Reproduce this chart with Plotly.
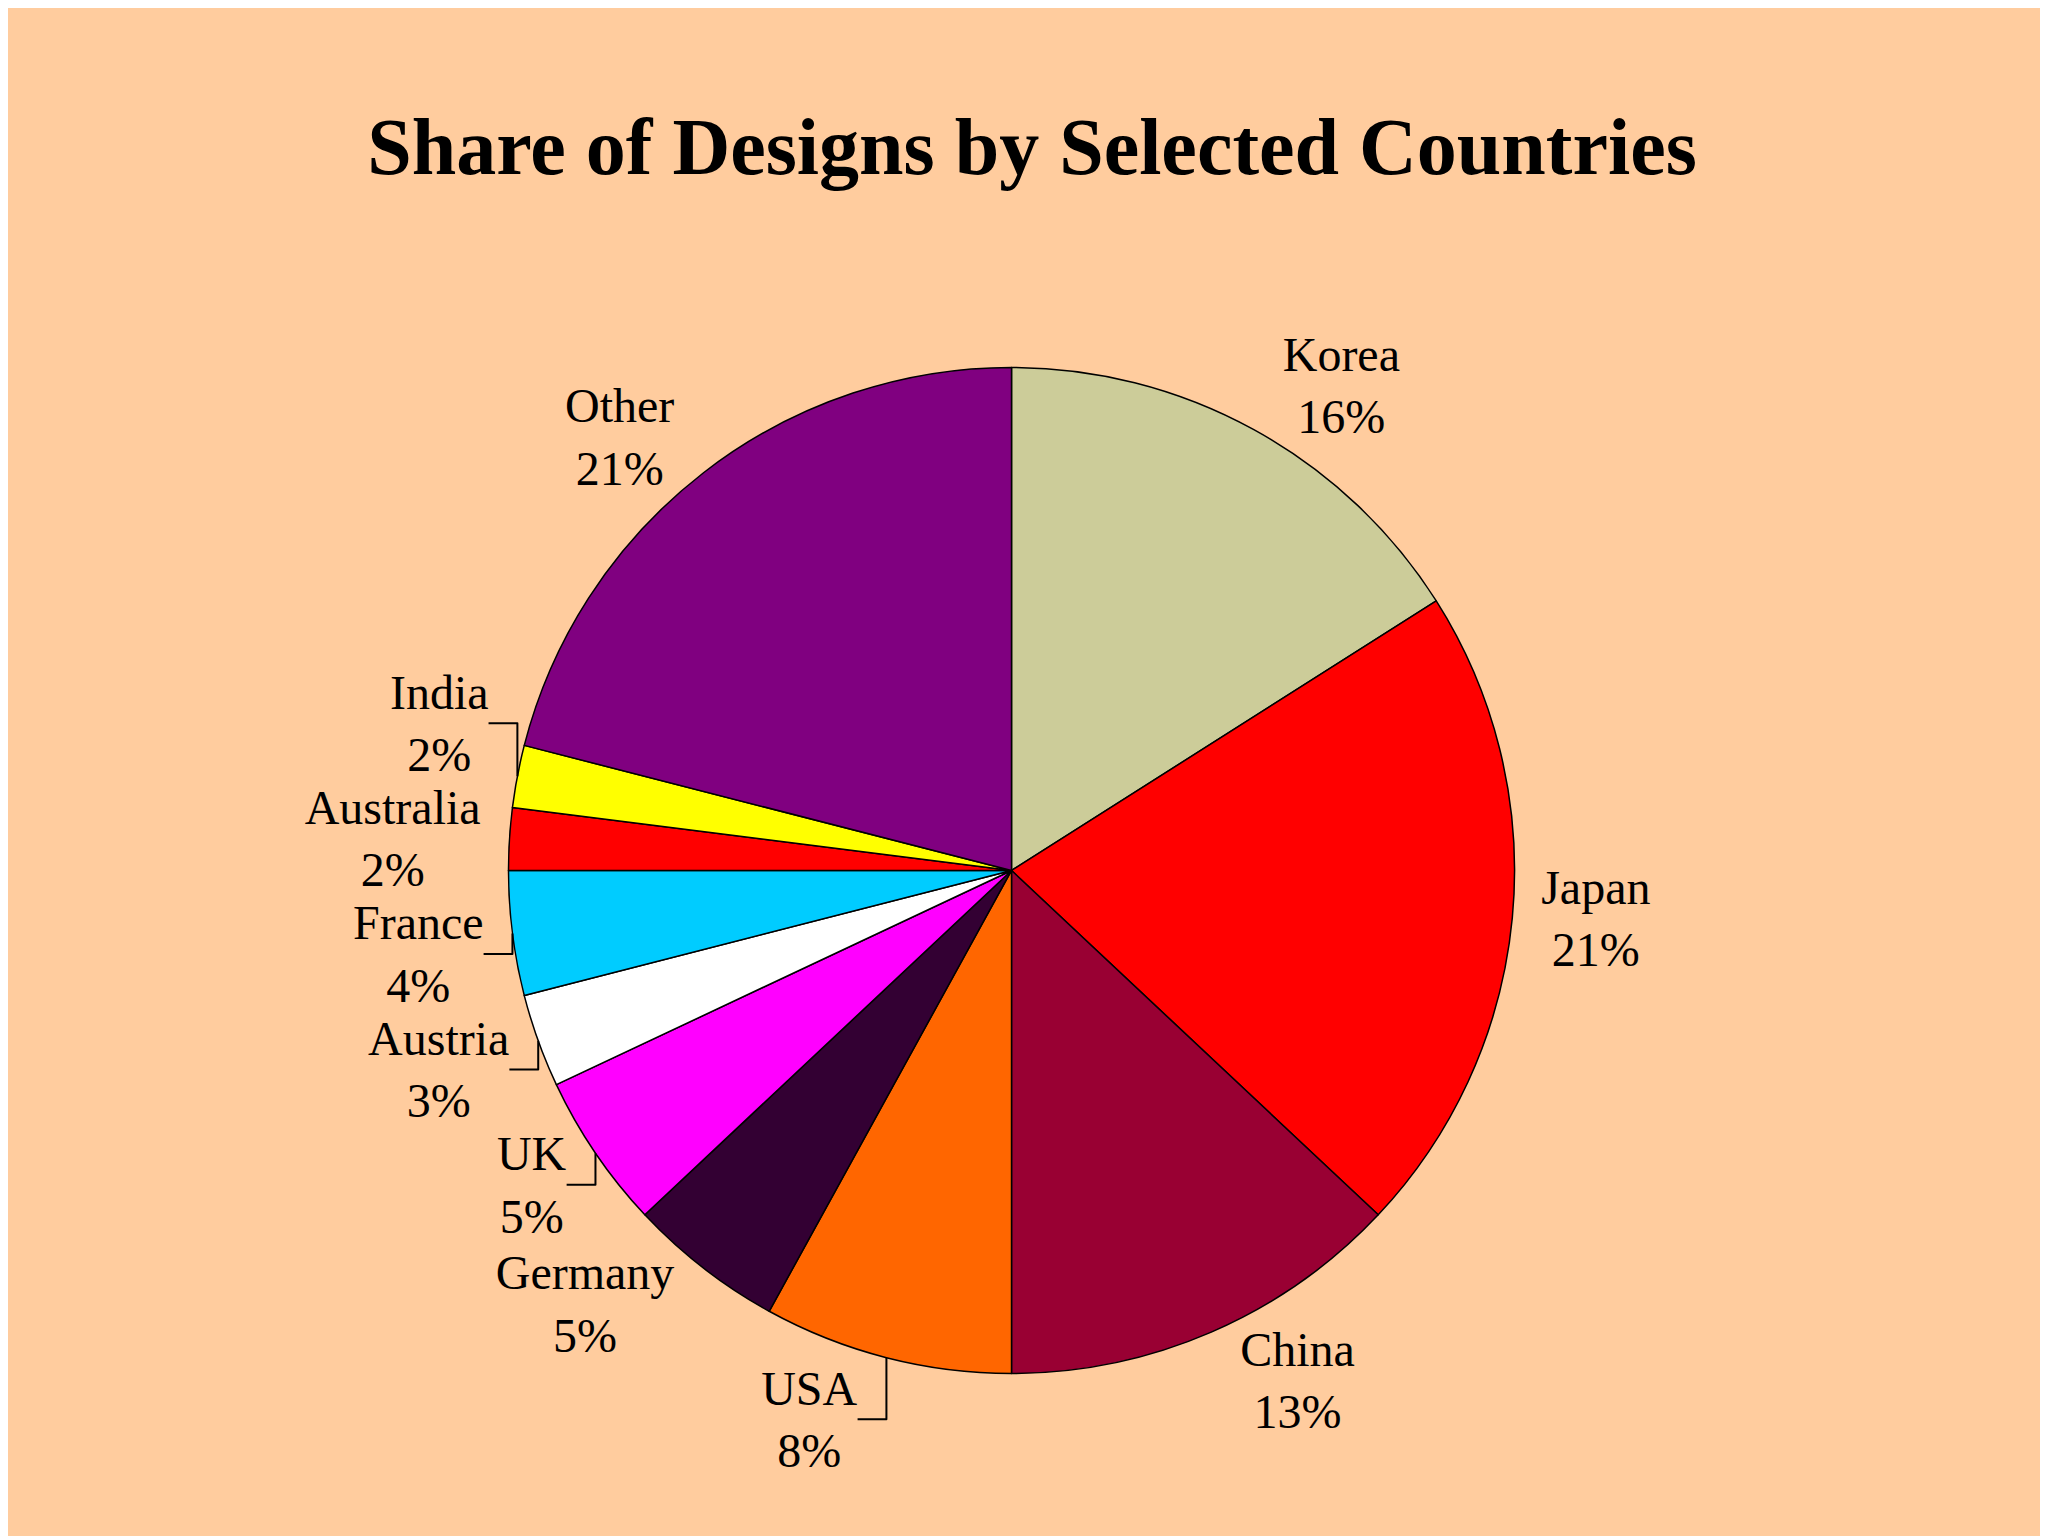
import plotly.graph_objects as go

countries = ["Korea", "Japan", "China", "USA", "Germany", "UK", "Austria",
             "France", "Australia", "India", "Other"]
shares = [16, 21, 13, 8, 5, 5, 3, 4, 2, 2, 21]
colors = ["#CCCC99", "#FF0000", "#990033", "#FF6600", "#330033", "#FF00FF",
          "#FFFFFF", "#00CCFF", "#FF0000", "#FFFF00", "#800080"]

fig = go.Figure(go.Pie(
    labels=countries,
    values=shares,
    sort=False,
    direction="clockwise",
    rotation=0,
    marker=dict(colors=colors, line=dict(color="black", width=1.5)),
    texttemplate="%{label}<br>%{value}%",
    textposition="outside",
    textfont=dict(family="Liberation Serif", size=48, color="black"),
    domain=dict(x=[0.244, 0.736], y=[0.111, 0.766]),
    showlegend=False,
    hoverinfo="label+percent",
))

fig.update_layout(
    width=2048, height=1536,
    paper_bgcolor="#FFCC9E",
    margin=dict(l=0, r=0, t=0, b=0),
    title=dict(text="<b>Share of Designs by Selected Countries</b>",
               x=0.5, y=0.91, xanchor="center", yanchor="middle",
               font=dict(family="Liberation Serif", size=80, color="black")),
)

fig.write_html("out.html")
